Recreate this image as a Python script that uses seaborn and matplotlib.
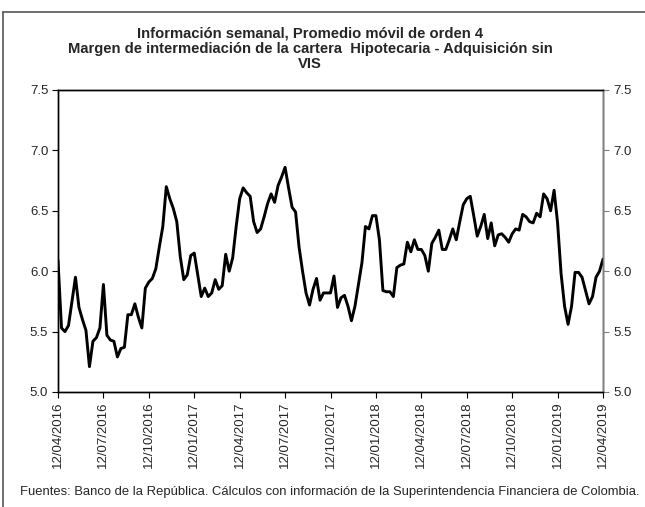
import numpy as np
import pandas as pd
import seaborn as sns
import matplotlib.pyplot as plt
from matplotlib.lines import Line2D

# valores semanales (12/04/2016 - 12/04/2019)
margen = [6.09, 5.53, 5.50, 5.55, 5.75, 5.95, 5.70, 5.60, 5.51, 5.21,
          5.42, 5.45, 5.53, 5.89, 5.47, 5.43, 5.42, 5.29, 5.36, 5.37,
          5.64, 5.64, 5.73, 5.62, 5.53, 5.86, 5.91, 5.94, 6.02, 6.20,
          6.37, 6.70, 6.60, 6.52, 6.41, 6.12, 5.93, 5.97, 6.13, 6.15,
          5.97, 5.79, 5.86, 5.79, 5.82, 5.93, 5.85, 5.88, 6.14, 6.00,
          6.11, 6.37, 6.60, 6.69, 6.65, 6.62, 6.41, 6.32, 6.35, 6.45,
          6.56, 6.64, 6.57, 6.71, 6.78, 6.86, 6.69, 6.53, 6.49, 6.20,
          6.00, 5.82, 5.72, 5.85, 5.94, 5.76, 5.82, 5.82, 5.82, 5.96,
          5.70, 5.78, 5.80, 5.71, 5.59, 5.71, 5.89, 6.07, 6.37, 6.35,
          6.46, 6.46, 6.26, 5.84, 5.83, 5.83, 5.79, 6.03, 6.05, 6.06,
          6.24, 6.16, 6.26, 6.18, 6.18, 6.13, 6.00, 6.23, 6.28, 6.34,
          6.18, 6.18, 6.26, 6.35, 6.26, 6.41, 6.55, 6.60, 6.62, 6.46,
          6.29, 6.37, 6.47, 6.27, 6.40, 6.21, 6.30, 6.31, 6.28, 6.24,
          6.31, 6.35, 6.34, 6.47, 6.45, 6.41, 6.40, 6.48, 6.45, 6.64,
          6.60, 6.50, 6.67, 6.40, 5.98, 5.71, 5.56, 5.71, 5.99, 5.99,
          5.95, 5.84, 5.73, 5.79, 5.95, 6.00, 6.10]
semana = list(range(len(margen)))

fechas = ['12/04/2016', '12/07/2016', '12/10/2016', '12/01/2017', '12/04/2017',
          '12/07/2017', '12/10/2017', '12/01/2018', '12/04/2018', '12/07/2018',
          '12/10/2018', '12/01/2019', '12/04/2019']
pos_fechas = [13 * i for i in range(len(fechas))]
yticks = [5.0, 5.5, 6.0, 6.5, 7.0, 7.5]

df = pd.DataFrame({'semana': semana, 'margen': margen})

sns.set_style('white')
plt.rcParams['font.family'] = ['Liberation Sans', 'DejaVu Sans']

fig = plt.figure(figsize=(6.45, 5.07), dpi=100)
ax = fig.add_axes([58/645, 1 - 392/507, 545/645, 302/507])

sns.lineplot(data=df, x='semana', y='margen', color='black', linewidth=2.1, ax=ax)

ax.set_xlim(0, 156)
ax.set_ylim(5.0, 7.5)
ax.set_xticks(pos_fechas)
ax.set_xticklabels(fechas, rotation=90, fontsize=9.5)
ax.set_yticks(yticks)
ax.set_yticklabels([f'{v:.1f}' for v in yticks], fontsize=9.5)
ax.set_xlabel('')
ax.set_ylabel('')
ax.tick_params(axis='both', direction='out', length=4, width=0.8, color='black',
               left=True, bottom=True, pad=3)

ax2 = ax.twinx()
ax2.set_ylim(5.0, 7.5)
ax2.set_yticks(yticks)
ax2.set_yticklabels([f'{v:.1f}' for v in yticks], fontsize=9.5)
ax2.tick_params(axis='y', direction='out', length=4, width=0.8, color='gray', right=True)

for a in (ax, ax2):
    for s in a.spines.values():
        s.set_color('black')
        s.set_linewidth(1.0)
ax2.spines['right'].set_color('gray')

titulo = ['Información semanal, Promedio móvil de orden 4',
          'Margen de intermediación de la cartera  Hipotecaria - Adquisición sin',
          'VIS']
for linea, ypx in zip(titulo, [33, 48.5, 64]):
    fig.text(310/645, 1 - ypx/507, linea, ha='center', va='center',
             fontsize=10.6, fontweight='bold')

fig.text(20/645, 1 - 492/507,
         'Fuentes: Banco de la República. Cálculos con información de la Superintendencia Financiera de Colombia.',
         ha='left', va='center', fontsize=9.4)

# marco del area del grafico
fig.add_artist(Line2D([3/645, 1], [1 - 12/507, 1 - 12/507], transform=fig.transFigure,
                      color='#555555', linewidth=1.2))
fig.add_artist(Line2D([3/645, 3/645], [0, 1 - 12/507], transform=fig.transFigure,
                      color='#555555', linewidth=1.2))

fig.savefig('out.png', dpi=100)
